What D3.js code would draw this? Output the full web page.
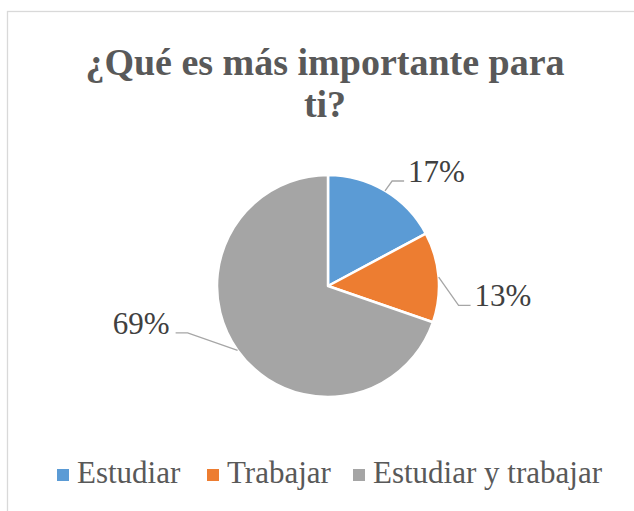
<!DOCTYPE html>
<html>
<head>
<meta charset="utf-8">
<script src="https://cdn.jsdelivr.net/npm/d3@7"></script>
<style>
	body { margin: 0; background: #fff; }
</style>
</head>
<body>
<svg id="chart"></svg>
<script>
var categories = ["Estudiar", "Trabajar", "Estudiar y trabajar"]
var values = [17, 13, 69]
var labels = ["17%", "13%", "69%"]
var colors = ["#5B9BD5", "#ED7D31", "#A5A5A5"]
var titleLines = ["¿Qué es más importante para", "ti?"]

var width = 634
var height = 511
var cx = 328
var cy = 286
var radius = 111
var serif = "'Liberation Serif', 'Times New Roman', Times, serif"

// where the leader-line elbow sits: shift from slice middle (deg) and distance from center
var labelShift = [0.5, 13, 17]
var labelDist = [123, 132, 148]

var svg = d3.select("#chart").attr("width", width).attr("height", height)

svg.append("rect")
	.attr("x", 7.5)
	.attr("y", 11.5)
	.attr("width", width)
	.attr("height", height)
	.attr("fill", "#fff")
	.attr("stroke", "#d9d9d9")
	.attr("stroke-width", 1.3)

svg.append("text")
	.attr("text-anchor", "middle")
	.style("font-family", serif)
	.style("font-weight", "bold")
	.style("font-size", "38px")
	.attr("fill", "#595959")
	.selectAll("tspan")
	.data(titleLines)
	.enter()
	.append("tspan")
	.attr("x", 325)
	.attr("y", function (d, i) { return 75 + i * 42 })
	.style("font-family", serif)
	.text(d => d)

var data = values.map(function (v, i) {
	return { name: categories[i], value: v, label: labels[i], color: colors[i] }
})

var pie = d3.pie().sort(null).value(d => d.value)
var arcs = pie(data)

var path = d3.arc().innerRadius(0).outerRadius(radius)

var g = svg.append("g").attr("transform", "translate(" + cx + "," + cy + ")")

g.selectAll(".slice")
	.data(arcs)
	.enter()
	.append("path")
	.attr("class", "slice")
	.attr("d", path)
	.attr("fill", d => d.data.color)
	.attr("stroke", "#fff")
	.attr("stroke-width", 2.5)
	.attr("stroke-linejoin", "round")

function polar(angle, r) {
	return [Math.sin(angle) * r, -Math.cos(angle) * r]
}

arcs.forEach(function (d, i) {
	var mid = (d.startAngle + d.endAngle) / 2
	var edge = polar(mid, radius)
	var elbowAngle = mid + labelShift[i] * Math.PI / 180
	var elbow = polar(elbowAngle, labelDist[i])
	var right = Math.sin(elbowAngle) > 0
	var end = [elbow[0] + (right ? 12 : -12), elbow[1]]

	g.append("polyline")
		.attr("points", [edge, elbow, end].map(p => p.join(",")).join(" "))
		.attr("fill", "none")
		.attr("stroke", "#a6a6a6")
		.attr("stroke-width", 1.3)

	g.append("text")
		.attr("x", end[0] + (right ? 4 : -6))
		.attr("y", end[1] + 1)
		.attr("text-anchor", right ? "start" : "end")
		.style("font-family", serif)
		.style("font-size", "31px")
		.attr("fill", "#404040")
		.text(d.data.label)
})

var legendX = [57, 207, 353]

var legend = svg.selectAll(".legend")
	.data(data)
	.enter()
	.append("g")
	.attr("class", "legend")
	.attr("transform", (d, i) => "translate(" + legendX[i] + ",469)")

legend.append("rect")
	.attr("width", 12)
	.attr("height", 12)
	.attr("fill", d => d.color)

legend.append("text")
	.attr("x", 20)
	.attr("y", 14)
	.style("font-family", serif)
	.style("font-size", "31px")
	.attr("fill", "#595959")
	.text(d => d.name)
</script>
</body>
</html>
